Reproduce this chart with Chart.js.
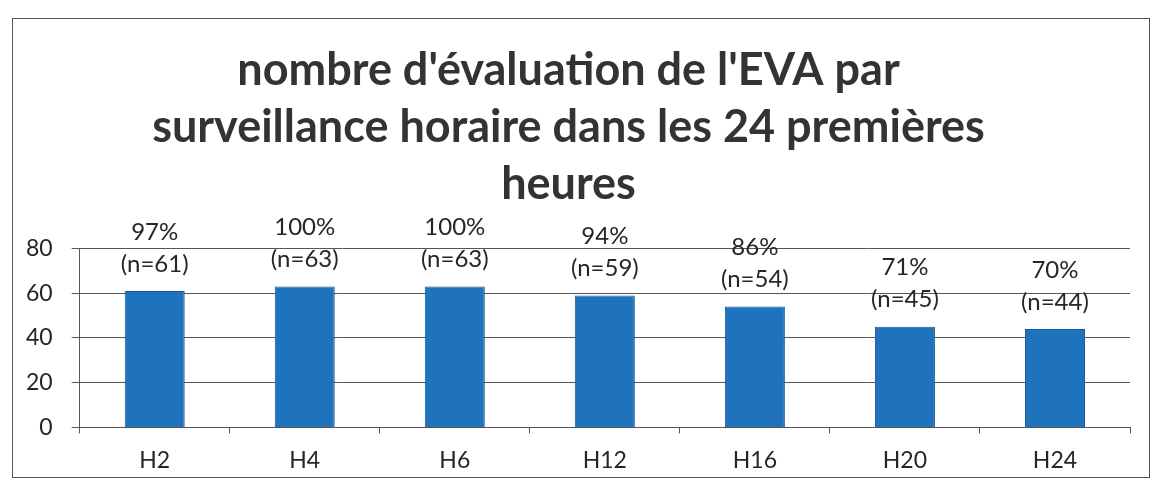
<!DOCTYPE html>
<html>
<head>
<meta charset="utf-8">
<script src="https://cdn.jsdelivr.net/npm/chart.js@4.4.1/dist/chart.umd.min.js"></script>
<style>
  html, body { margin: 0; padding: 0; background: #fff; }
  #frame {
    position: absolute; left: 12px; top: 18px;
    width: 1138px; height: 460px;
    border: 1px solid #555; box-sizing: border-box;
  }
</style>
</head>
<body>
<div id="frame"><canvas id="eva"></canvas></div>
<script>
var heures = ['H2', 'H4', 'H6', 'H12', 'H16', 'H20', 'H24'];
var evaluations = [61, 63, 63, 59, 54, 45, 44];
var pourcentages = ['97%', '100%', '100%', '94%', '86%', '71%', '70%'];
var yTicks = [0, 20, 40, 60, 80];

// labels "97%" / "(n=61)" au-dessus des barres
var barLabels = {
    id: 'barLabels',
    afterDatasetsDraw: function(chart) {
        var ctx = chart.ctx;
        var meta = chart.getDatasetMeta(0);
        ctx.save();
        ctx.font = '24px Lato';
        ctx.fillStyle = '#262626';
        ctx.textAlign = 'center';
        ctx.textBaseline = 'middle';
        meta.data.forEach(function(bar, i) {
            ctx.fillText('(n=' + evaluations[i] + ')', bar.x, bar.y - 27);
            ctx.fillText(pourcentages[i], bar.x, bar.y - 59);
        });
        ctx.restore();
    }
};

var config = {
    type: 'bar',
    data: {
        labels: heures,
        datasets: [{
            data: evaluations,
            backgroundColor: '#1f73bc',
            borderColor: '#195a96',
            borderWidth: 1,
            barPercentage: 0.4,
            categoryPercentage: 1
        }]
    },
    options: {
        responsive: true,
        maintainAspectRatio: false,
        animation: false,
        layout: {
            padding: { left: -6, right: 19, top: 0, bottom: -10 }
        },
        plugins: {
            legend: { display: false },
            tooltip: { enabled: false },
            title: {
                display: true,
                text: ["nombre d'évaluation de l'EVA par",
                       'surveillance horaire dans les 24 premières',
                       'heures'],
                color: '#333',
                font: { family: 'Lato', size: 45, weight: 'bold', lineHeight: 1.27 },
                padding: { top: 23, bottom: 35 }
            }
        },
        scales: {
            x: {
                offset: true,
                grid: {
                    offset: true,
                    drawOnChartArea: false,
                    tickLength: 6,
                    color: '#555'
                },
                border: { color: '#555' },
                ticks: {
                    color: '#262626',
                    font: { family: 'Lato', size: 23 },
                    padding: 13
                }
            },
            y: {
                min: 0,
                max: 80,
                afterBuildTicks: function(axis) {
                    axis.ticks = yTicks.map(function(v) { return { value: v }; });
                },
                grid: { color: '#555', tickLength: 8 },
                border: { color: '#555' },
                ticks: {
                    color: '#262626',
                    font: { family: 'Lato', size: 23 },
                    padding: 19
                }
            }
        }
    },
    plugins: [barLabels]
};

window.onload = function() {
    var ctx = document.getElementById('eva').getContext('2d');
    window.evaChart = new Chart(ctx, config);
};
</script>
</body>
</html>
